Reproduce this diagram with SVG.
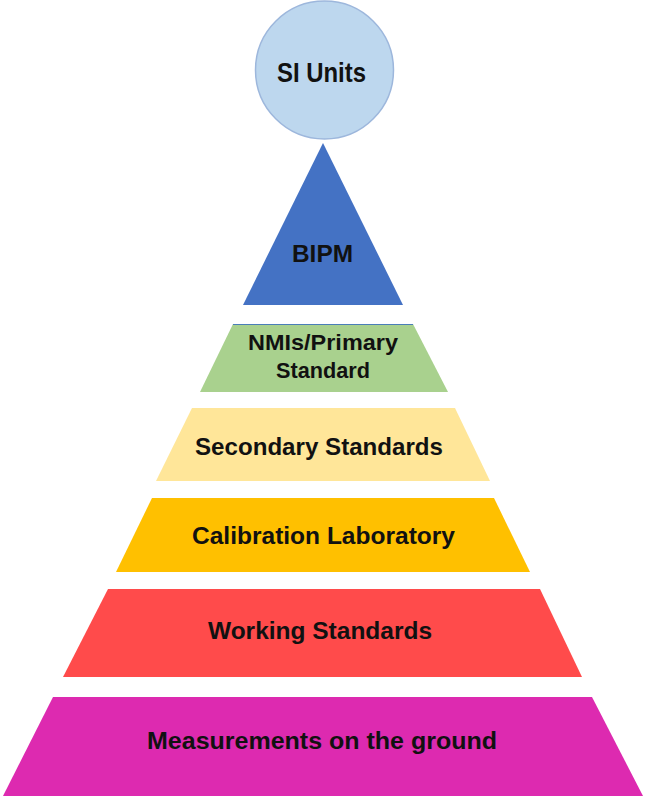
<svg xmlns="http://www.w3.org/2000/svg" width="645" height="804" viewBox="0 0 645 804">
<style>
.t{font-family:"Liberation Sans",Arial,sans-serif;font-weight:bold;fill:#111;text-anchor:middle}
</style>
<rect width="645" height="804" fill="#fff"/>
<g id="si-units">
<circle cx="324.5" cy="70" r="69" fill="#BDD7EE" stroke="#9DB7DC" stroke-width="1.5"/>
<text class="t" x="321.5" y="82" font-size="27" textLength="89" lengthAdjust="spacingAndGlyphs">SI Units</text>
</g>
<g id="bipm">
<polygon points="323,143 403,305 243,305" fill="#4472C4"/>
<text class="t" x="322.5" y="262" font-size="23" textLength="61" lengthAdjust="spacingAndGlyphs">BIPM</text>
</g>
<g id="nmi">
<polygon points="233,324 413,324 448,392 200,392" fill="#A9D18E"/>
<line x1="233" y1="324.5" x2="413" y2="324.5" stroke="#4A7EB8" stroke-width="1.2"/>
<text class="t" x="323" y="350" font-size="22" textLength="150" lengthAdjust="spacingAndGlyphs">NMIs/Primary</text>
<text class="t" x="323" y="378" font-size="22" textLength="94" lengthAdjust="spacingAndGlyphs">Standard</text>
</g>
<g id="secondary">
<polygon points="192,408 455,408 490,481 156,481" fill="#FFE699"/>
<text class="t" x="319" y="455" font-size="24" textLength="248" lengthAdjust="spacingAndGlyphs">Secondary Standards</text>
</g>
<g id="calibration">
<polygon points="152,498 494,498 530,572 116,572" fill="#FFC000"/>
<text class="t" x="323.5" y="543.5" font-size="23" textLength="263" lengthAdjust="spacingAndGlyphs">Calibration Laboratory</text>
</g>
<g id="working">
<polygon points="108,589 540,589 582,677 63,677" fill="#FF4B4B"/>
<text class="t" x="320" y="639" font-size="23" textLength="224" lengthAdjust="spacingAndGlyphs">Working Standards</text>
</g>
<g id="measurements">
<polygon points="53,697 592,697 643,796 3,796" fill="#DD2AB0"/>
<text class="t" x="322" y="749" font-size="23" textLength="350" lengthAdjust="spacingAndGlyphs">Measurements on the ground</text>
</g>
<g id="connectors"></g>
</svg>
